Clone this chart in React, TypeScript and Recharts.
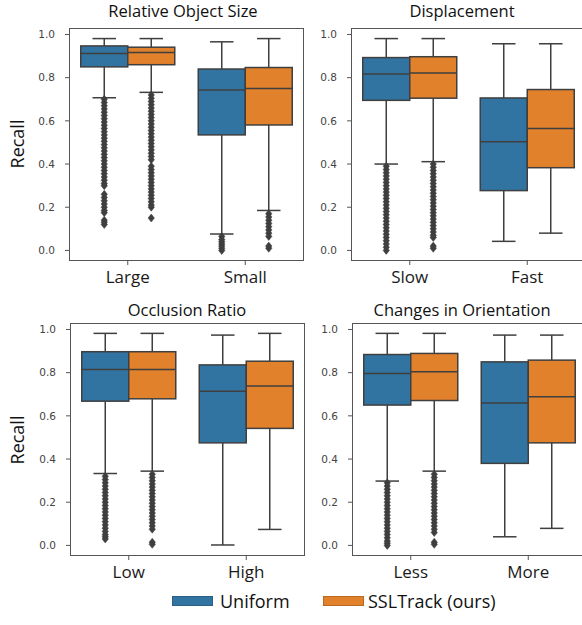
import React from 'react';
import { ComposedChart, Bar, XAxis, YAxis } from 'recharts';

const BLUE = '#3274a1';
const ORANGE = '#e1812c';
const LINE = '#3f3f3f';
const TXT_FONT = '"Open Sans", sans-serif';

const yTicks = [0, 0.2, 0.4, 0.6, 0.8, 1.0];
const seriesNames = ['Uniform', 'SSLTrack (ours)'];
const yLabel = 'Recall';

// Stats per box: [lowWhisker, q1, median, q3, highWhisker]
// Panel 1: Relative Object Size
const sizeTitle = 'Relative Object Size';
const sizeCategories = ['Large', 'Small'];
const sizeUniform = [[0.707, 0.850, 0.912, 0.947, 0.981], [0.076, 0.535, 0.743, 0.840, 0.966]];
const sizeSSL = [[0.732, 0.860, 0.917, 0.941, 0.981], [0.185, 0.581, 0.750, 0.847, 0.981]];
const sizeUniformOutliers = [
  [0.70, 0.685, 0.67, 0.655, 0.64, 0.625, 0.61, 0.595, 0.58, 0.565, 0.55, 0.535, 0.52, 0.505, 0.49, 0.475, 0.46, 0.445, 0.43, 0.415, 0.40, 0.385, 0.37, 0.355, 0.34, 0.325, 0.31, 0.30, 0.26, 0.245, 0.23, 0.215, 0.20, 0.185, 0.175, 0.14, 0.13, 0.12],
  [0.065, 0.05, 0.04, 0.03, 0.02, 0.01, 0.0],
];
const sizeSSLOutliers = [
  [0.72, 0.705, 0.69, 0.675, 0.66, 0.645, 0.63, 0.615, 0.60, 0.585, 0.57, 0.555, 0.54, 0.525, 0.51, 0.495, 0.48, 0.465, 0.45, 0.435, 0.42, 0.39, 0.375, 0.36, 0.345, 0.33, 0.315, 0.30, 0.285, 0.27, 0.255, 0.24, 0.225, 0.21, 0.20, 0.15],
  [0.17, 0.155, 0.14, 0.125, 0.11, 0.095, 0.08, 0.065, 0.02, 0.01],
];

// Panel 2: Displacement
const dispTitle = 'Displacement';
const dispCategories = ['Slow', 'Fast'];
const dispUniform = [[0.400, 0.695, 0.817, 0.893, 0.981], [0.042, 0.277, 0.503, 0.706, 0.957]];
const dispSSL = [[0.411, 0.705, 0.822, 0.897, 0.981], [0.080, 0.383, 0.565, 0.745, 0.957]];
const dispUniformOutliers = [
  [0.39, 0.375, 0.36, 0.345, 0.33, 0.315, 0.30, 0.285, 0.27, 0.255, 0.24, 0.225, 0.21, 0.195, 0.18, 0.165, 0.15, 0.135, 0.12, 0.105, 0.09, 0.075, 0.06, 0.045, 0.03, 0.015, 0.0],
  [],
];
const dispSSLOutliers = [
  [0.40, 0.385, 0.37, 0.355, 0.34, 0.325, 0.31, 0.295, 0.28, 0.265, 0.25, 0.235, 0.22, 0.205, 0.19, 0.175, 0.16, 0.145, 0.13, 0.115, 0.10, 0.085, 0.07, 0.06, 0.02, 0.01],
  [],
];

// Panel 3: Occlusion Ratio
const occTitle = 'Occlusion Ratio';
const occCategories = ['Low', 'High'];
const occUniform = [[0.333, 0.668, 0.815, 0.897, 0.982], [0.002, 0.475, 0.714, 0.836, 0.974]];
const occSSL = [[0.344, 0.679, 0.815, 0.897, 0.982], [0.074, 0.542, 0.738, 0.853, 0.982]];
const occUniformOutliers = [
  [0.32, 0.305, 0.29, 0.275, 0.26, 0.245, 0.23, 0.215, 0.20, 0.185, 0.17, 0.155, 0.14, 0.125, 0.11, 0.095, 0.08, 0.065, 0.05, 0.04, 0.03],
  [],
];
const occSSLOutliers = [
  [0.33, 0.315, 0.30, 0.285, 0.27, 0.255, 0.24, 0.225, 0.21, 0.195, 0.18, 0.165, 0.15, 0.135, 0.12, 0.105, 0.09, 0.075, 0.015, 0.005],
  [],
];

// Panel 4: Changes in Orientation
const oriTitle = 'Changes in Orientation';
const oriCategories = ['Less', 'More'];
const oriUniform = [[0.298, 0.650, 0.796, 0.884, 0.982], [0.040, 0.380, 0.660, 0.850, 0.974]];
const oriSSL = [[0.344, 0.671, 0.804, 0.889, 0.982], [0.079, 0.475, 0.688, 0.858, 0.974]];
const oriUniformOutliers = [
  [0.29, 0.275, 0.26, 0.245, 0.23, 0.215, 0.20, 0.185, 0.17, 0.155, 0.14, 0.125, 0.11, 0.095, 0.08, 0.065, 0.05, 0.035, 0.02, 0.01, 0.0],
  [],
];
const oriSSLOutliers = [
  [0.33, 0.315, 0.30, 0.285, 0.27, 0.255, 0.24, 0.225, 0.21, 0.195, 0.18, 0.165, 0.15, 0.135, 0.12, 0.105, 0.09, 0.075, 0.06, 0.015, 0.005],
  [],
];

type Row = {
  cat: string;
  uRange: number[];
  sRange: number[];
  uStats: number[];
  sStats: number[];
  uOut: number[];
  sOut: number[];
};

function buildRows(cats: string[], u: number[][], s: number[][], uo: number[][], so: number[][]): Row[] {
  return cats.map((c, i) => ({
    cat: c,
    uRange: [u[i][0], u[i][4]],
    sRange: [s[i][0], s[i][4]],
    uStats: u[i],
    sStats: s[i],
    uOut: uo[i],
    sOut: so[i],
  }));
}

const makeShape = (key: 'u' | 's', fill: string) => (props: any) => {
  const { x, y, width, height, payload } = props;
  if (!payload) return <g />;
  const st: number[] = payload[key + 'Stats'];
  const out: number[] = payload[key + 'Out'] || [];
  const [lo, q1, med, q3, hi] = st;
  const top = Math.min(y, y + height);
  const bot = Math.max(y, y + height);
  const py = (v: number) => top + ((bot - top) * (hi - v)) / (hi - lo);
  const cx = x + width / 2;
  const capHalf = width / 4;
  const sw = 1.5;
  return (
    <g>
      <line x1={cx} x2={cx} y1={py(hi)} y2={py(q3)} stroke={LINE} strokeWidth={sw} />
      <line x1={cx} x2={cx} y1={py(q1)} y2={py(lo)} stroke={LINE} strokeWidth={sw} />
      <line x1={cx - capHalf} x2={cx + capHalf} y1={py(hi)} y2={py(hi)} stroke={LINE} strokeWidth={sw} />
      <line x1={cx - capHalf} x2={cx + capHalf} y1={py(lo)} y2={py(lo)} stroke={LINE} strokeWidth={sw} />
      <rect x={x} y={py(q3)} width={width} height={py(q1) - py(q3)} fill={fill} stroke={LINE} strokeWidth={sw} />
      <line x1={x} x2={x + width} y1={py(med)} y2={py(med)} stroke={LINE} strokeWidth={sw} />
      {out.map((v, i) => {
        const p = py(v);
        return (
          <path
            key={i}
            d={`M${cx},${p - 4}L${cx + 3.2},${p}L${cx},${p + 4}L${cx - 3.2},${p}Z`}
            fill={LINE}
            stroke={LINE}
            strokeWidth={0.5}
          />
        );
      })}
    </g>
  );
};

const uniformShape = makeShape('u', BLUE);
const sslShape = makeShape('s', ORANGE);

const FW = 235;
const FH = 233;
const Y_AREA = 60;

type PanelProps = {
  fx: number;
  fy: number;
  rows: Row[];
  title: string;
  titleX: number;
  titleY: number;
};

function Panel({ fx, fy, rows, title, titleX, titleY }: PanelProps) {
  return (
    <>
      <div
        style={{
          position: 'absolute',
          left: titleX - 150,
          top: titleY - 11,
          width: 300,
          height: 22,
          textAlign: 'center',
          fontFamily: TXT_FONT,
          fontSize: 16.5,
          lineHeight: '22px',
          color: '#111',
          whiteSpace: 'nowrap',
        }}
      >
        {title}
      </div>
      <div
        style={{
          position: 'absolute',
          left: fx,
          top: fy,
          width: FW,
          height: FH,
          boxSizing: 'border-box',
          border: '1.3px solid #555',
          background: '#fff',
        }}
      />
      <div style={{ position: 'absolute', left: fx - Y_AREA, top: fy - 5 }}>
        <ComposedChart
          width={Y_AREA + FW + 5}
          height={5 + FH + 40}
          data={rows}
          margin={{ top: 5, right: 5, bottom: 0, left: 0 }}
          barCategoryGap="10%"
          barGap={0}
        >
          <XAxis
            dataKey="cat"
            height={40}
            axisLine={false}
            tickLine={{ stroke: '#555', strokeWidth: 1 }}
            tickSize={4}
            tickMargin={6}
            tick={{ fill: '#1a1a1a', fontSize: 17, fontFamily: TXT_FONT }}
            interval={0}
          />
          <YAxis
            type="number"
            width={Y_AREA}
            domain={[-0.049, 1.03]}
            allowDataOverflow
            ticks={yTicks}
            tickFormatter={(v: number) => v.toFixed(1)}
            axisLine={false}
            tickLine={{ stroke: '#555', strokeWidth: 1 }}
            tickSize={4}
            tickMargin={10}
            tick={{ fill: '#444', fontSize: 10.5, fontFamily: '"DejaVu Sans", sans-serif' }}
          />
          <Bar dataKey="uRange" name={seriesNames[0]} fill={BLUE} shape={uniformShape} isAnimationActive={false} />
          <Bar dataKey="sRange" name={seriesNames[1]} fill={ORANGE} shape={sslShape} isAnimationActive={false} />
        </ComposedChart>
      </div>
    </>
  );
}

function YLabel({ cy }: { cy: number }) {
  return (
    <div
      style={{
        position: 'absolute',
        left: 17 - 50,
        top: cy - 12,
        width: 100,
        height: 24,
        lineHeight: '24px',
        textAlign: 'center',
        transform: 'rotate(-90deg)',
        fontFamily: TXT_FONT,
        fontSize: 18,
        color: '#111',
      }}
    >
      {yLabel}
    </div>
  );
}

function LegendItem({ x, textX, color, border, label }: { x: number; textX: number; color: string; border: string; label: string }) {
  return (
    <>
      <div
        style={{
          position: 'absolute',
          left: x,
          top: 596,
          width: 41,
          height: 10,
          boxSizing: 'border-box',
          background: color,
          border: `1px solid ${border}`,
        }}
      />
      <div
        style={{
          position: 'absolute',
          left: textX,
          top: 589,
          height: 24,
          lineHeight: '24px',
          fontFamily: TXT_FONT,
          fontSize: 18,
          color: '#111',
          whiteSpace: 'nowrap',
        }}
      >
        {label}
      </div>
    </>
  );
}

export default function App() {
  const sizeRows = buildRows(sizeCategories, sizeUniform, sizeSSL, sizeUniformOutliers, sizeSSLOutliers);
  const dispRows = buildRows(dispCategories, dispUniform, dispSSL, dispUniformOutliers, dispSSLOutliers);
  const occRows = buildRows(occCategories, occUniform, occSSL, occUniformOutliers, occSSLOutliers);
  const oriRows = buildRows(oriCategories, oriUniform, oriSSL, oriUniformOutliers, oriSSLOutliers);
  return (
    <div
      style={{
        position: 'absolute',
        left: 0,
        top: 0,
        width: 582,
        height: 625,
        overflow: 'hidden',
        background: '#fff',
      }}
    >
      <Panel fx={69} fy={28} rows={sizeRows} title={sizeTitle} titleX={183} titleY={11} />
      <Panel fx={351} fy={28} rows={dispRows} title={dispTitle} titleX={462} titleY={11} />
      <Panel fx={70} fy={323} rows={occRows} title={occTitle} titleX={187} titleY={310} />
      <Panel fx={352} fy={323} rows={oriRows} title={oriTitle} titleX={462} titleY={310} />
      <YLabel cy={144} />
      <YLabel cy={440} />
      <LegendItem x={172} textX={220} color={BLUE} border="#2b5f85" label={seriesNames[0]} />
      <LegendItem x={323} textX={368} color={ORANGE} border="#b8691f" label={seriesNames[1]} />
    </div>
  );
}
